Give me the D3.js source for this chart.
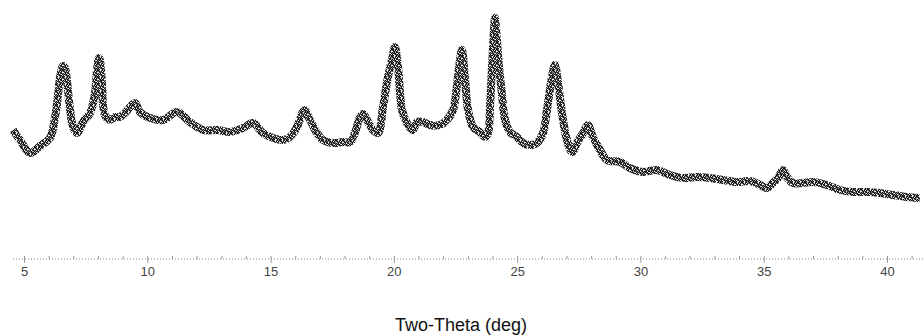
<!DOCTYPE html>
<html>
<head>
<meta charset="utf-8">
<script src="https://cdn.jsdelivr.net/npm/d3@7"></script>
<style>
  body { margin: 0; background: #fff; }
  svg { display: block; }
  .tick-label { font-family: Arial, "Liberation Sans", sans-serif; font-size: 13px; fill: #444; }
  .axis-title { font-family: Arial, "Liberation Sans", sans-serif; font-size: 18px; fill: #111; }
</style>
</head>
<body>
<div id="chart"></div>
<script>
// two-theta (deg)
const twoTheta = [4.55, 4.84, 5.24, 5.65, 6.05, 6.26, 6.38, 6.46, 6.58, 6.66, 6.74, 6.87, 6.99, 7.15, 7.39, 7.68,
  7.88, 7.96, 8.04, 8.08, 8.16, 8.28, 8.49, 8.69, 8.89, 9.10, 9.30, 9.50, 9.70, 10.11, 10.64, 11.20, 11.73,
  12.26, 12.83, 13.35, 13.88, 14.29, 14.69, 15.10, 15.50, 15.79, 16.07, 16.31, 16.39, 16.60, 16.88, 17.12,
  17.53, 17.94, 18.22, 18.42, 18.63, 18.75, 18.91, 19.15, 19.36, 19.56, 19.76, 19.92, 20.04, 20.17, 20.33,
  20.53, 20.77, 20.94, 21.18, 21.46, 21.87, 22.15, 22.40, 22.56, 22.64, 22.76, 22.88, 23.01, 23.21, 23.49,
  23.69, 23.82, 23.90, 23.98, 24.06, 24.10, 24.18, 24.26, 24.38, 24.51, 24.71, 24.99, 25.24, 25.52, 25.80,
  26.05, 26.21, 26.41, 26.53, 26.66, 26.82, 27.02, 27.23, 27.43, 27.67, 27.87, 28.07, 28.36, 28.64, 29.17,
  29.57, 30.10, 30.67, 31.20, 31.72, 32.29, 32.82, 33.35, 33.91, 34.44, 34.85, 35.13, 35.37, 35.58, 35.78,
  35.94, 36.18, 36.59, 37.00, 37.56, 38.09, 38.62, 39.18, 39.71, 40.24, 40.81, 41.33];

// intensity (counts, estimated)
const counts = [1300, 1200, 1070, 1140, 1220, 1430, 1650, 1830, 1940, 1920, 1800, 1500, 1330, 1270, 1380, 1470,
  1670, 1900, 2020, 2000, 1770, 1450, 1400, 1430, 1430, 1470, 1530, 1570, 1480, 1420, 1400, 1480, 1380,
  1300, 1300, 1280, 1320, 1370, 1270, 1220, 1200, 1230, 1330, 1480, 1500, 1400, 1270, 1200,
  1170, 1180, 1180, 1270, 1430, 1460, 1400, 1300, 1270, 1530, 1830, 2000, 2130, 1930, 1500,
  1370, 1300, 1380, 1380, 1350, 1350, 1400, 1500, 1750, 1920, 2100, 1830, 1500, 1330, 1280,
  1230, 1270, 1530, 1930, 2300, 2420, 2200, 1950, 1670, 1400, 1280, 1230, 1170, 1150, 1170,
  1270, 1500, 1830, 1950, 1770, 1470, 1200, 1080, 1170, 1270, 1350, 1230, 1100, 1000, 980,
  920, 880, 900, 850, 820, 830, 820, 800, 780, 790, 750, 720, 770, 820, 900,
  830, 770, 770, 780, 750, 700, 680, 680, 670, 650, 630, 620];

const majorTicks = [5, 10, 15, 20, 25, 30, 35, 40];
const xTitle = "Two-Theta (deg)";

const width = 923, height = 336;
const axisY = 259;

const svg = d3.select("#chart").append("svg")
  .attr("width", width)
  .attr("height", height);

// speckle texture so the trace reads like a noisy scan band
const speckleRows = [
  "#g.d#l#",
  "d#l#.#g",
  ".d#g#d.",
  "#l#.d#g",
  "g#d#l.#",
  "#.g#d#l",
  "d#.l#g#"
];
const speckleColor = { "#": "#111", "d": "#444", "g": "#888", "l": "#bbb" };

const defs = svg.append("defs");
const pat = defs.append("pattern")
  .attr("id", "speckle")
  .attr("patternUnits", "userSpaceOnUse")
  .attr("width", 7).attr("height", 7);
speckleRows.forEach((row, r) => {
  row.split("").forEach((c, k) => {
    if (!speckleColor[c]) return;
    pat.append("rect")
      .attr("x", k).attr("y", r)
      .attr("width", 1).attr("height", 1)
      .attr("fill", speckleColor[c]);
  });
});

const x = d3.scaleLinear().domain([5, 40]).range([24, 887]);
const y = d3.scaleLinear().domain([0, 2600]).range([260, 0]);

const data = twoTheta.map((t, i) => [t, counts[i]]);

const line = d3.line()
  .x(d => x(d[0]))
  .y(d => y(d[1]))
  .curve(d3.curveCatmullRom.alpha(0.5));

svg.append("path")
  .datum(data)
  .attr("fill", "none")
  .attr("stroke", "url(#speckle)")
  .attr("stroke-width", 8)
  .attr("stroke-linejoin", "round")
  .attr("d", line);

svg.append("path")
  .datum(data)
  .attr("fill", "none")
  .attr("stroke", "#111")
  .attr("stroke-width", 1.2)
  .attr("stroke-dasharray", "1 2")
  .attr("d", line);

// dotted axis
const axis = d3.axisBottom(x)
  .tickValues(d3.range(5, 42, 1))
  .tickSize(3)
  .tickFormat(d => majorTicks.includes(d) ? d : "");

const gx = svg.append("g")
  .attr("transform", `translate(0,${axisY})`)
  .call(axis);

gx.select(".domain").remove();
gx.append("line")
  .attr("x1", 13).attr("x2", width)
  .attr("stroke", "#888")
  .attr("stroke-dasharray", "1 2");
gx.selectAll(".tick line")
  .attr("y1", 0).attr("y2", -3)
  .attr("stroke", "#999");
gx.selectAll(".tick").filter(d => majorTicks.includes(d)).select("line")
  .attr("y2", 4).attr("y1", -3);
gx.selectAll(".tick text")
  .attr("class", "tick-label")
  .attr("y", 8)
  .attr("dy", "0.71em")
  .attr("fill", null);

svg.append("text")
  .attr("class", "axis-title")
  .attr("x", 461)
  .attr("y", 331)
  .attr("text-anchor", "middle")
  .text(xTitle);
</script>
</body>
</html>
